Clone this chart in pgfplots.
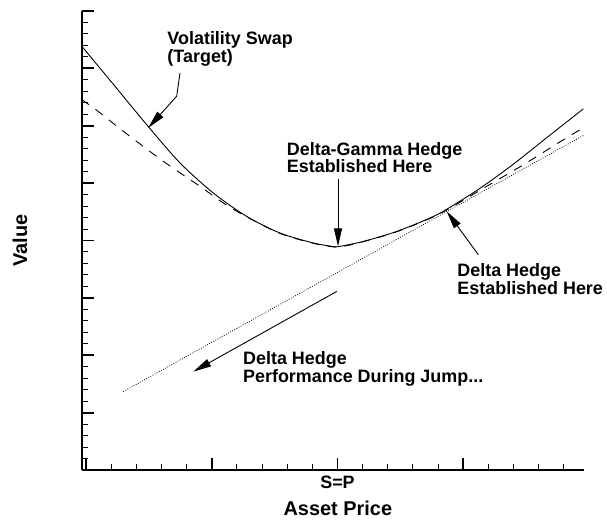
\documentclass[border=0pt]{standalone}
\usepackage{fontspec}
\setmainfont{Liberation Sans}
\usepackage{pgfplots}
\pgfplotsset{compat=1.18}
\usetikzlibrary{arrows.meta}
\begin{document}
\begin{tikzpicture}
\path[use as bounding box] (0,0) rectangle (607bp,520bp);
\begin{axis}[
  at={(81.7bp,50bp)}, anchor=south west,
  width=502.3bp, height=459bp, scale only axis,
  xmin=-0.17, xmax=19.8, ymin=0, ymax=40,
  axis x line*=bottom, axis y line*=left,
  axis line style={line width=2bp,-},
  tick align=inside,
  xtick={0,5,10,15}, xticklabels={,,S=P,},
  minor xtick={0,1,...,19},
  ytick={0,5,...,40}, yticklabels={},
  minor ytick={0,1,...,40},
  major tick length=12bp, minor tick length=6bp,
  major tick style={line width=1.8bp, black},
  minor tick style={line width=1bp, black},
  xticklabel style={font=\fontsize{18}{18}\selectfont\bfseries, yshift=-2.5bp},
  xlabel={Asset Price}, ylabel={Value},
  xlabel style={at={(axis description cs:0.51,-0.083)}, anchor=center, font=\fontsize{20}{20}\selectfont\bfseries},
  ylabel style={at={(axis description cs:-0.1228,0.5)}, anchor=center, font=\fontsize{20}{20}\selectfont\bfseries},
  clip=false,
]
% Volatility swap (target)
\addplot[black, line width=0.9bp, smooth, tension=0.5] coordinates {
(-0.17,36.94) (1.085,33.62) (2.477,29.93) (3.738,26.76) (5.062,24.14) (6.390,22.10)
(7.714,20.65) (9.038,19.78) (9.702,19.52) (10.0,19.46) (11.026,19.92) (12.354,20.79)
(13.678,21.96) (14.342,22.72) (15.666,24.55) (16.99,26.65) (18.318,28.96) (19.773,31.47)
};
% Delta-gamma hedge
\addplot[black, line width=0.9bp, smooth, tension=0.5, dash pattern=on 9bp off 8bp] coordinates {
(-0.17,32.29) (0.557,31.13) (1.483,29.52) (3.074,26.90) (4.533,24.72) (5.459,23.27) (6.39,22.06)
(7.714,20.62) (9.038,19.76) (10.0,19.44) (11.026,19.90) (12.354,20.76) (13.678,21.93)
(14.342,22.66) (15.0,23.5) (15.666,24.38) (16.5,25.45) (17.39,26.6) (18.18,27.68)
(18.98,28.78) (19.77,29.82)
};
% Delta hedge
\addplot[black, line width=0.8bp, dash pattern=on 0.8bp off 1.6bp] coordinates {
(1.483,6.83) (19.773,29.15)
};
% annotations
\node[font=\fontsize{18}{18}\selectfont\bfseries, align=left, anchor=north west, inner sep=0pt]
  at (axis cs:3.233,38.25) {Volatility Swap\\(Target)};
\node[font=\fontsize{18}{18}\selectfont\bfseries, align=left, anchor=north west, inner sep=0pt]
  at (axis cs:7.98,28.6) {Delta-Gamma Hedge\\Established Here};
\node[font=\fontsize{18}{18}\selectfont\bfseries, align=left, anchor=north west, inner sep=0pt]
  at (axis cs:14.76,17.98) {Delta Hedge\\Established Here};
\node[font=\fontsize{18}{18}\selectfont\bfseries, align=left, anchor=north west, inner sep=0pt]
  at (axis cs:6.24,10.37) {Delta Hedge\\Performance During Jump...};
\draw[line width=0.9bp, -{Triangle[length=18bp,width=8bp]}]
  (axis cs:3.738,34.6) -- (axis cs:3.606,32.57) -- (axis cs:2.477,29.82);
\draw[line width=0.9bp, -{Triangle[length=18bp,width=8bp]}]
  (axis cs:10.02,25.37) -- (axis cs:10.02,19.49);
\draw[line width=0.9bp, -{Triangle[length=18bp,width=8bp]}]
  (axis cs:15.6,18.76) -- (axis cs:14.34,22.54);
\draw[line width=0.9bp, -{Triangle[length=18bp,width=8bp]}]
  (axis cs:9.97,15.56) -- (axis cs:4.27,8.58);
\end{axis}
\end{tikzpicture}
\end{document}
